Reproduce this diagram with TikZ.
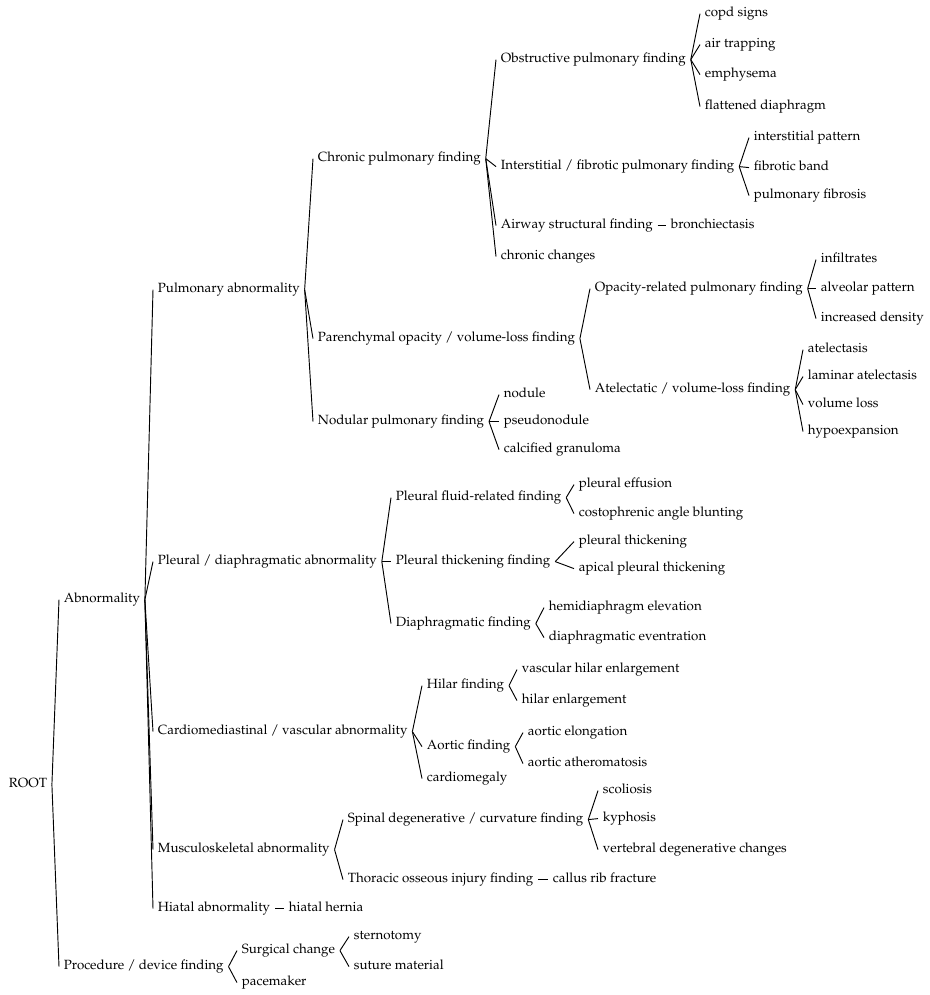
\documentclass[tikz,border=0pt]{standalone}
\usepackage[T1]{fontenc}
\usepackage{mathpazo}
\begin{document}
\begin{tikzpicture}[x=0.75pt,y=-0.75pt,
  lbl/.style={anchor=west,inner xsep=3.5pt,inner ysep=0pt,text height=6.5pt,text depth=2pt,font=\fontsize{10}{12}\selectfont},
  edge/.style={draw=black,line width=0.7pt}]
\useasboundingbox (0,0) rectangle (930,995);
\begin{scope}[yshift=-1.2pt]
% nodes
\node[lbl] (root) at (4,783) {ROOT};
\node[lbl] (abn) at (59,598) {Abnormality};
\node[lbl] (proc) at (59,965) {Procedure / device finding};
\node[lbl] (pulm) at (153,288) {Pulmonary abnormality};
\node[lbl] (pleu) at (153,560) {Pleural / diaphragmatic abnormality};
\node[lbl] (card) at (153,730) {Cardiomediastinal / vascular abnormality};
\node[lbl] (musc) at (153,848) {Musculoskeletal abnormality};
\node[lbl] (hiat) at (153,907) {Hiatal abnormality};
\node[lbl] (hern) at (284,907) {hiatal hernia};
\node[lbl] (chron) at (313,157) {Chronic pulmonary finding};
\node[lbl] (paren) at (313,337) {Parenchymal opacity / volume-loss finding};
\node[lbl] (nodul) at (313,420) {Nodular pulmonary finding};
\node[lbl] (obst) at (496,58) {Obstructive pulmonary finding};
\node[lbl] (inter) at (496,165) {Interstitial / fibrotic pulmonary finding};
\node[lbl] (airw) at (496,224) {Airway structural finding};
\node[lbl] (bronch) at (666,224) {bronchiectasis};
\node[lbl] (chrch) at (496,255) {chronic changes};
\node[lbl] (copd) at (700,12) {copd signs};
\node[lbl] (airt) at (700,43) {air trapping};
\node[lbl] (emph) at (700,73) {emphysema};
\node[lbl] (flat) at (700,105) {flattened diaphragm};
\node[lbl] (ipat) at (749,136) {interstitial pattern};
\node[lbl] (fband) at (749,166) {fibrotic band};
\node[lbl] (pfib) at (749,194) {pulmonary fibrosis};
\node[lbl] (opac) at (590,287) {Opacity-related pulmonary finding};
\node[lbl] (atel) at (590,388) {Atelectatic / volume-loss finding};
\node[lbl] (infil) at (816,258) {infiltrates};
\node[lbl] (alv) at (816,287) {alveolar pattern};
\node[lbl] (incd) at (816,317) {increased density};
\node[lbl] (atl) at (803,348) {atelectasis};
\node[lbl] (lam) at (803,375) {laminar atelectasis};
\node[lbl] (vol) at (803,403) {volume loss};
\node[lbl] (hypo) at (803,430) {hypoexpansion};
\node[lbl] (nod) at (499,393) {nodule};
\node[lbl] (pseu) at (499,420) {pseudonodule};
\node[lbl] (calc) at (499,448) {calcified granuloma};
\node[lbl] (pfl) at (391,496) {Pleural fluid-related finding};
\node[lbl] (pth) at (391,560) {Pleural thickening finding};
\node[lbl] (diaf) at (391,622) {Diaphragmatic finding};
\node[lbl] (peff) at (574,483) {pleural effusion};
\node[lbl] (cost) at (574,512) {costophrenic angle blunting};
\node[lbl] (pthk) at (574,540) {pleural thickening};
\node[lbl] (apic) at (574,567) {apical pleural thickening};
\node[lbl] (hemi) at (544,606) {hemidiaphragm elevation};
\node[lbl] (even) at (544,636) {diaphragmatic eventration};
\node[lbl] (hil) at (422,684) {Hilar finding};
\node[lbl] (aort) at (422,745) {Aortic finding};
\node[lbl] (cmeg) at (422,777) {cardiomegaly};
\node[lbl] (vhil) at (517,668) {vascular hilar enlargement};
\node[lbl] (hile) at (517,699) {hilar enlargement};
\node[lbl] (aelo) at (523,731) {aortic elongation};
\node[lbl] (aath) at (523,762) {aortic atheromatosis};
\node[lbl] (spin) at (343,818) {Spinal degenerative / curvature finding};
\node[lbl] (thor) at (343,878) {Thoracic osseous injury finding};
\node[lbl] (callus) at (548,878) {callus rib fracture};
\node[lbl] (scol) at (598,789) {scoliosis};
\node[lbl] (kyph) at (598,817) {kyphosis};
\node[lbl] (vert) at (598,848) {vertebral degenerative changes};
\node[lbl] (surg) at (237,949) {Surgical change};
\node[lbl] (pace) at (237,981) {pacemaker};
\node[lbl] (stern) at (349,935) {sternotomy};
\node[lbl] (sut) at (349,965) {suture material};
\end{scope}
% edges
\foreach \p/\c in {root/abn,root/proc,
  abn/pulm,abn/pleu,abn/card,abn/musc,abn/hiat,hiat/hern,
  pulm/chron,pulm/paren,pulm/nodul,
  chron/obst,chron/inter,chron/airw,chron/chrch,airw/bronch,
  obst/copd,obst/airt,obst/emph,obst/flat,
  inter/ipat,inter/fband,inter/pfib,
  paren/opac,paren/atel,
  opac/infil,opac/alv,opac/incd,
  atel/atl,atel/lam,atel/vol,atel/hypo,
  nodul/nod,nodul/pseu,nodul/calc,
  pleu/pfl,pleu/pth,pleu/diaf,
  pfl/peff,pfl/cost,pth/pthk,pth/apic,diaf/hemi,diaf/even,
  card/hil,card/aort,card/cmeg,
  hil/vhil,hil/hile,aort/aelo,aort/aath,
  musc/spin,musc/thor,thor/callus,
  spin/scol,spin/kyph,spin/vert,
  proc/surg,proc/pace,surg/stern,surg/sut}
  \draw[edge] (\p.east) -- (\c.west);
\end{tikzpicture}
\end{document}
